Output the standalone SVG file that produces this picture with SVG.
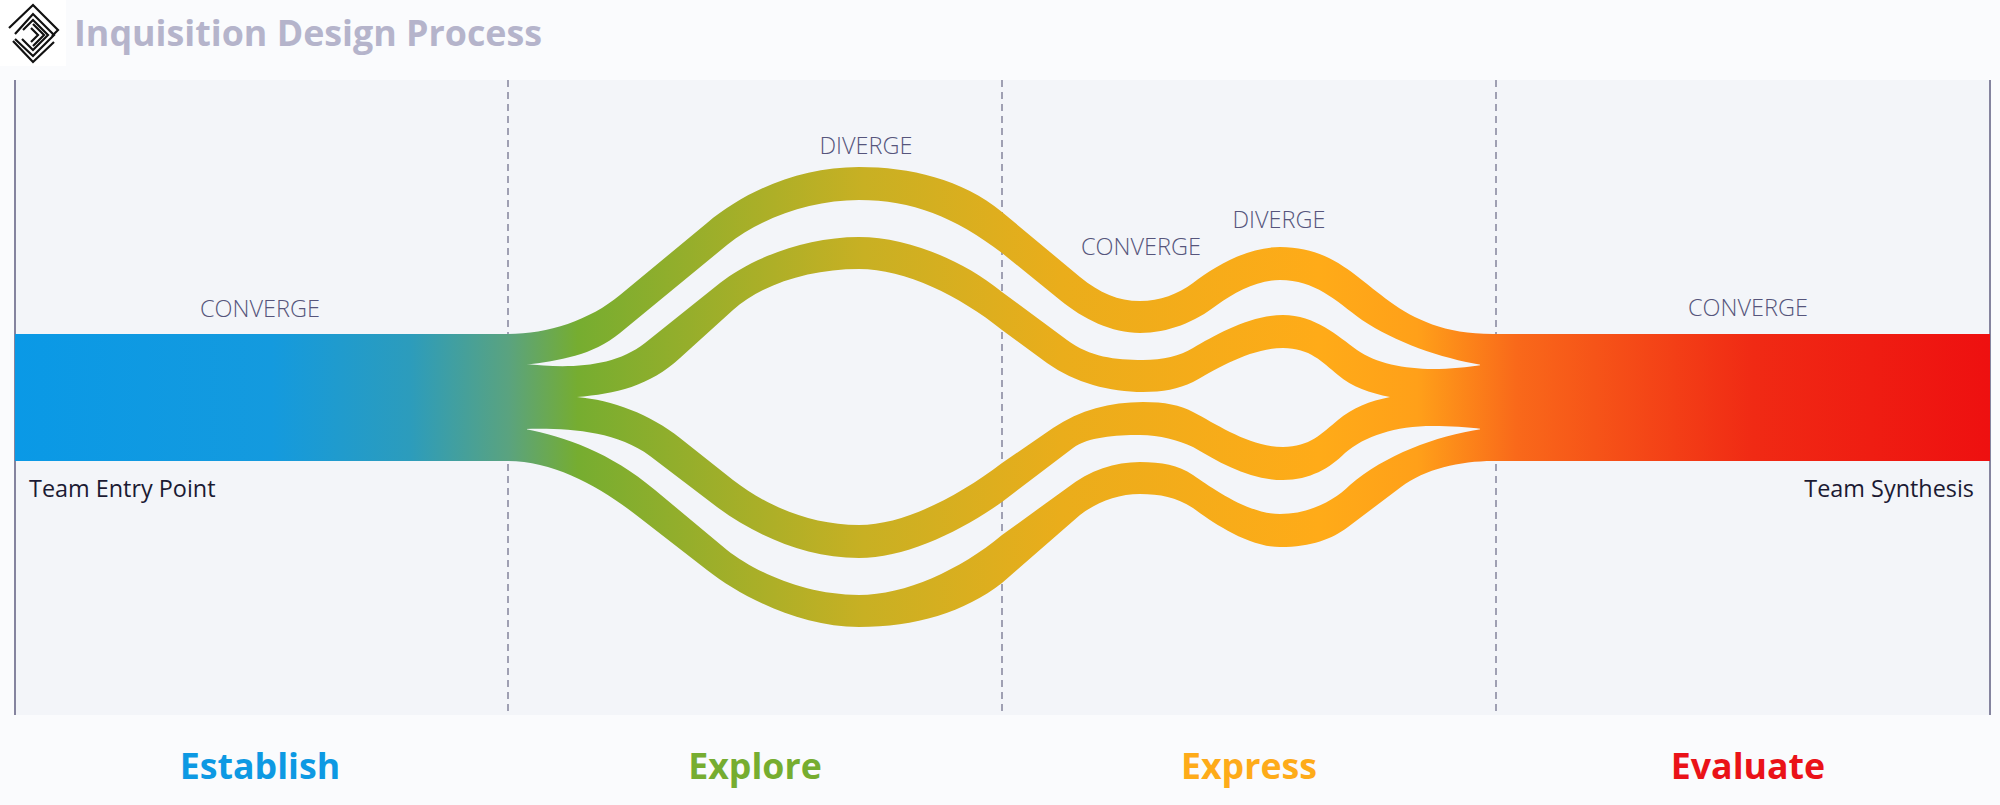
<svg xmlns="http://www.w3.org/2000/svg" width="2000" height="805" viewBox="0 0 2000 805">
<style>
.lab{font-family:"Open Sans","DejaVu Sans",sans-serif;font-size:23.5px;font-weight:300;fill:#56557c;text-anchor:middle}
.note{font-family:"Open Sans","DejaVu Sans",sans-serif;font-size:23.4px;fill:#1b1a33}
.phase{font-family:"Open Sans","DejaVu Sans",sans-serif;font-size:35.7px;font-weight:700;text-anchor:middle}
.div{stroke:#84849c;stroke-width:1.5;stroke-dasharray:7 5;fill:none}
.edge{stroke:#85849f;stroke-width:2;fill:none}
.logo{fill:none;stroke:#111;stroke-width:2.2}
.band{fill:url(#flow)}
</style>
<defs>
<linearGradient id="flow" gradientUnits="userSpaceOnUse" x1="15" y1="0" x2="1990" y2="0">
<stop offset="0" stop-color="#0a99e6"/>
<stop offset="0.13" stop-color="#149ade"/>
<stop offset="0.2" stop-color="#2c9cbc"/>
<stop offset="0.25" stop-color="#5aa37f"/>
<stop offset="0.285" stop-color="#76ad30"/>
<stop offset="0.43" stop-color="#c8b023"/>
<stop offset="0.53" stop-color="#eaad1b"/>
<stop offset="0.66" stop-color="#ffab18"/>
<stop offset="0.71" stop-color="#ffa019"/>
<stop offset="0.76" stop-color="#f9691a"/>
<stop offset="0.88" stop-color="#f02a14"/>
<stop offset="1" stop-color="#ee1010"/>
</linearGradient>
</defs>
<rect width="2000" height="805" fill="#fafbfd"/>
<rect x="15" y="80" width="1975" height="635" fill="#f3f5f9"/>
<g id="logo">
<rect width="66" height="66" fill="#fff"/>
<path class="logo" d="M9 28L33 5L58 30L52 36"/>
<path class="logo" d="M13 41L33 62L54 42"/>
<path class="logo" d="M15 34L33 14L54 35L33 56L15 39"/>
<path class="logo" d="M23 30L33 20L48 35L33 50L22 39"/>
<path class="logo" d="M33 24L44 35L33 46" stroke-width="1.8"/>
<path class="logo" d="M31 28L38 35L31 42" stroke="#1d4d8b" stroke-width="1.6"/>
</g>
<text x="74" y="46" font-family="'Open Sans','DejaVu Sans',sans-serif" font-size="35.8" font-weight="700" fill="#b5b4cb">Inquisition Design Process</text>
<g id="guides">
<path class="edge" d="M15 80V715M1990 80V715"/>
<path class="div" d="M508 80V715M1002 80V715M1496 80V715"/>
</g>
<g id="connectors">
<rect class="band" x="15" y="334" width="512" height="127"/>
<rect class="band" x="1480" y="334" width="510" height="127"/>
<path id="band-a" class="band" d="M500 334H508C548 334 590 320 620 295L707 223C745 191 800 167 859 167C910 167 962 179 1002 212L1080 277C1100 293 1118 301 1140 301C1160 301 1178 294 1193 283C1215 266 1248 247 1280 247C1368 247 1375 334 1493 334H1500V365H1482C1440 358 1395 342 1362 320C1335 300 1315 280 1280 280C1258 280 1235 292 1217 305C1195 322 1168 333 1140 333C1112 333 1083 319 1060 300L1002 253C955 217 912 200 859 200C812 200 762 217 727 245L620 333C592 356 560 360 525 365H500Z"/>
<path id="band-b" class="band" d="M500 364H525C565 368 612 369 645 343L720 283C750 259 805 237 859 237C905 237 960 258 1002 292L1067 340C1090 357 1115 360 1143 360C1163 360 1180 356 1193 348C1215 335 1250 315 1283 315C1315 315 1338 336 1357 350C1375 363 1405 369 1433 369C1450 369 1468 367 1482 365L1500 364V398L1390 397C1370 393 1352 387 1338 375C1322 362 1310 348 1283 348C1250 348 1215 370 1193 382C1178 389 1163 392 1143 392C1110 392 1075 383 1047 363L1002 330C960 296 905 269 859 269C810 269 762 284 733 310L680 358C650 386 615 394 577 397L500 398Z"/>
<path id="band-c" class="band" d="M500 396L577 397C612 400 650 414 680 438L733 480C765 505 810 525 859 525C905 525 960 495 1002 463L1053 428C1080 410 1110 402 1143 402C1165 402 1180 405 1193 412C1218 425 1250 447 1283 447C1310 447 1322 433 1338 420C1352 408 1370 401 1390 397L1500 396V430L1482 429C1468 427 1450 426 1433 426C1395 426 1365 436 1345 453C1330 468 1310 480 1283 480C1250 480 1220 463 1193 447C1178 440 1160 435 1140 435C1115 435 1088 437 1073 448L1002 502C960 532 905 558 859 558C805 558 755 535 717 507L650 456C615 430 565 428 525 429L500 430Z"/>
<path id="band-d" class="band" d="M500 429H525C565 437 610 452 655 490L727 550C755 572 805 595 859 595C905 595 960 570 1002 535L1067 488C1090 470 1115 462 1140 462C1162 462 1178 465 1193 475C1212 488 1248 514 1280 514C1310 514 1335 500 1350 485C1385 455 1435 436 1482 429H1500V461H1493C1460 461 1425 469 1401 487L1348 527C1332 539 1312 547 1280 547C1248 547 1212 522 1193 508C1176 497 1160 494 1140 494C1118 494 1097 502 1080 515L1002 583C965 612 915 627 859 627C800 627 740 596 707 570L640 518C602 488 555 461 508 461H500Z"/>
</g>
<text class="lab" x="260" y="317">CONVERGE</text>
<text class="lab" x="866" y="154">DIVERGE</text>
<text class="lab" x="1141" y="255">CONVERGE</text>
<text class="lab" x="1279" y="228">DIVERGE</text>
<text class="lab" x="1748" y="316">CONVERGE</text>
<text class="note" x="29" y="497">Team Entry Point</text>
<text class="note" x="1974" y="497" text-anchor="end">Team Synthesis</text>
<g id="phases">
<text class="phase" x="260" y="779" fill="#0d99e3">Establish</text>
<text class="phase" x="755" y="779" fill="#76ad30">Explore</text>
<text class="phase" x="1249" y="779" fill="#feab19">Express</text>
<text class="phase" x="1748" y="779" fill="#ea1218">Evaluate</text>
</g>
</svg>
